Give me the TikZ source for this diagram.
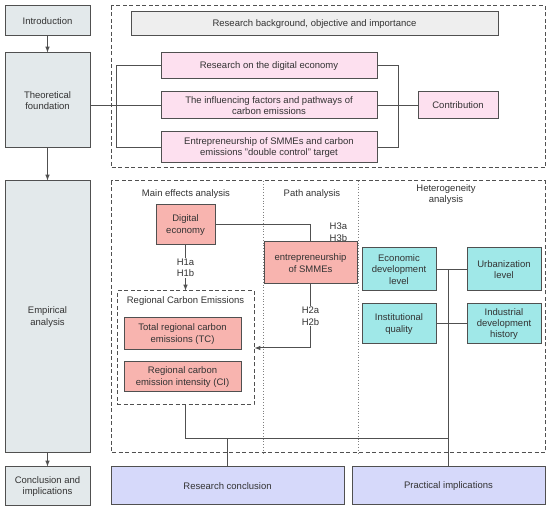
\documentclass[tikz,border=0pt]{standalone}
\usepackage{fontspec}
\setmainfont{Liberation Sans}
\usetikzlibrary{arrows}
\definecolor{stagegray}{HTML}{E3E9EB}
\definecolor{bggray}{HTML}{EEEEEE}
\definecolor{litpink}{HTML}{FDE0EF}
\definecolor{salmon}{HTML}{F8B4AF}
\definecolor{hetcyan}{HTML}{A0E8E8}
\definecolor{outlav}{HTML}{D6D9FA}
\definecolor{linegray}{HTML}{505050}
\definecolor{txtgray}{HTML}{333333}
\begin{document}
\begin{tikzpicture}[x=1pt,y=-1pt,
  every node/.style={font=\fontsize{9.5}{11.3}\selectfont, text=txtgray, align=center},
  box/.style={draw=linegray, line width=1pt, inner sep=1pt},
  stage/.style={box, fill=stagegray, minimum width=85pt},
  lit/.style={box, fill=litpink, minimum width=216pt},
  var/.style={box, fill=salmon},
  het/.style={box, fill=hetcyan, minimum width=74pt},
  outc/.style={box, fill=outlav, minimum height=38pt},
  conn/.style={draw=linegray, line width=1pt},
  dashbox/.style={draw=linegray, line width=1pt, dash pattern=on 4pt off 2.5pt},
  sep/.style={draw=gray, line width=0.8pt, dotted},
  lbl/.style={fill=white, inner sep=1pt}]
\useasboundingbox (0,0) rectangle (550,513);
\node[stage, minimum height=30pt] (intro) at (47.5,21) {Introduction};
\node[stage, minimum height=95pt] (theory) at (47.5,100.5) {Theoretical\\foundation};
\node[stage, minimum height=272pt] (empir) at (47.5,317) {Empirical\\analysis};
\node[stage, minimum height=39pt] (concl) at (47.5,486.5) {Conclusion and\\implications};
\draw[conn, -latex] (intro) -- (theory);
\draw[conn, -latex] (theory) -- (empir);
\draw[conn, -latex] (empir) -- (concl);

\draw[dashbox] (111,6) rectangle (545,168);
\node[box, fill=bggray, minimum width=367pt, minimum height=24pt] (bg) at (314.5,24) {Research background, objective and importance};
\node[lit, minimum height=26pt] (digres) at (269,66) {Research on the digital economy};
\node[lit, minimum height=27pt] (factors) at (269,105.5) {The influencing factors and pathways of\\carbon emissions};
\node[lit, minimum height=31pt] (smmeres) at (269,147.5) {Entrepreneurship of SMMEs and carbon\\emissions "double control" target};
\node[box, fill=litpink, minimum width=80pt, minimum height=27pt] (contrib) at (458,105.5) {Contribution};
\draw[conn] (theory.east |- factors.west) -- (factors.west);
\draw[conn] (digres.west) -- ++(-44,0) |- (smmeres.west);
\draw[conn] (digres.east) -- ++(21,0) |- (smmeres.east);
\draw[conn] (factors.east) -- (contrib.west);

\draw[dashbox] (111,181) rectangle (545,453);
\draw[sep] (263,181) -- (263,453);
\draw[sep] (358,181) -- (358,453);
\node (mainhd) at (186,194) {Main effects analysis};
\node (pathhd) at (312,194) {Path analysis};
\node (hethd) at (446,194.5) {Heterogeneity\\analysis};
\node[var, minimum width=59pt, minimum height=40pt] (digeco) at (185.5,225) {Digital\\economy};
\node[var, minimum width=93pt, minimum height=42pt] (smme) at (310.5,263) {entrepreneurship\\of SMMEs};
\node[dashbox, minimum width=137pt, minimum height=114pt] (rce) at (185.5,348) {};
\node (rcehd) at (185.5,301) {Regional Carbon Emissions};
\node[var, minimum width=117pt, minimum height=32pt] (tc) at (182.5,334) {Total regional carbon\\emissions (TC)};
\node[var, minimum width=117pt, minimum height=30pt] (ci) at (182.5,377) {Regional carbon\\emission intensity (CI)};
\draw[conn, -latex] (digeco.south) -- node[lbl] {H1a\\H1b} (rce.north);
\draw[conn] (digeco.east) -- (smme.north |- digeco.east) -- (smme.north);
\node[lbl, fill=none, anchor=south west, inner sep=0pt] (h3) at ([xshift=19pt]smme.north) {H3a\\H3b};
\draw[conn, -latex] (smme.south) -- node[lbl] {H2a\\H2b} (smme.south |- rce.east) -- (rce.east);
\node[het, minimum height=43pt] (econ) at (399,269.5) {Economic\\development\\level};
\node[het, minimum height=43pt] (urban) at (504,269.5) {Urbanization\\level};
\node[het, minimum height=40pt] (inst) at (399,324) {Institutional\\quality};
\node[het, minimum height=40pt] (indus) at (504,324) {Industrial\\development\\history};
\draw[conn] (econ.east) -- (urban.west);
\draw[conn] (inst.east) -- (indus.west);

\node[outc, minimum width=233pt] (resc) at (227.5,486) {Research conclusion};
\node[outc, minimum width=193pt] (pract) at (448.5,486) {Practical implications};
\coordinate (jn) at (185.5,439);
\draw[conn] (rce.south) -- (jn) -- (jn -| pract.north);
\draw[conn] (jn -| resc.north) -- (resc.north);
\draw[conn] (econ.east -| pract.north) -- (pract.north);
\end{tikzpicture}
\end{document}
